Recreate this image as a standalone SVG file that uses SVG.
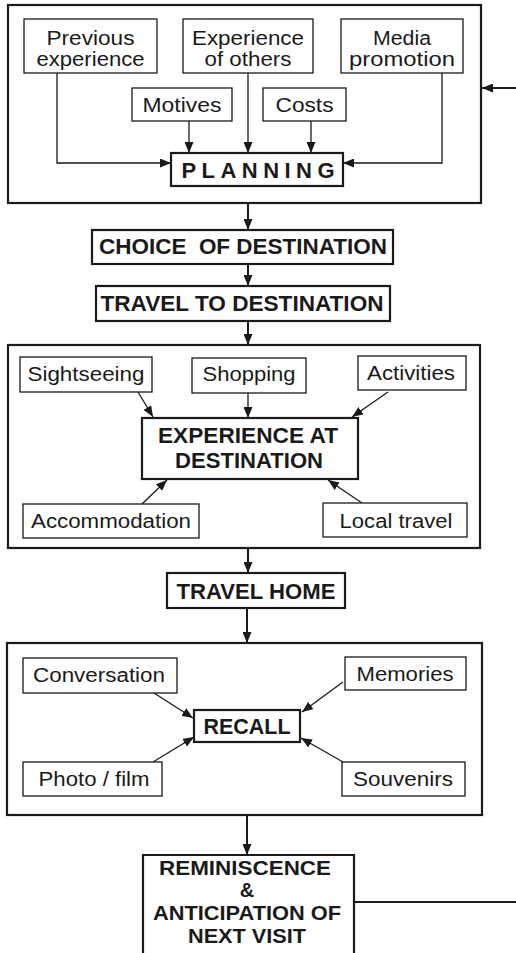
<svg xmlns="http://www.w3.org/2000/svg" width="516" height="953" viewBox="0 0 516 953">
  <defs>
    <marker id="arrow" markerUnits="userSpaceOnUse" markerWidth="12" markerHeight="9" refX="11" refY="4.5" orient="auto">
      <path d="M0,0 L11,4.5 L0,9 z" fill="#1a1a1a"/>
    </marker>
    <style>
      .frame { fill: none; stroke: #1a1a1a; stroke-width: 2.2; }
      .box { fill: #fff; stroke: #1a1a1a; stroke-width: 1.3; }
      .key { fill: #fff; stroke: #1a1a1a; stroke-width: 2.2; }
      .t { font-family: "Liberation Sans", Arial, sans-serif; font-size: 20px; fill: #1a1a1a; text-anchor: middle; }
      .b { font-family: "Liberation Sans", Arial, sans-serif; font-size: 22px; font-weight: bold; fill: #1a1a1a; text-anchor: middle; }
      .s { font-size: 20px; }
      .c { fill: none; stroke: #1a1a1a; stroke-width: 1.3; }
      .m { fill: none; stroke: #1a1a1a; stroke-width: 2; }
    </style>
  </defs>

  <rect x="0" y="0" width="516" height="953" fill="#fff"/>

  <!-- stage frames -->
  <g id="frames">
    <rect id="frame-planning" class="frame" x="8" y="5" width="473" height="198"/>
    <rect id="frame-destination" class="frame" x="8" y="345" width="472" height="203"/>
    <rect id="frame-recall" class="frame" x="7" y="643" width="475" height="172"/>
  </g>

  <!-- connectors -->
  <g id="connectors">
    <!-- planning inputs -->
    <path class="c" d="M57,73 V163 H171" marker-end="url(#arrow)"/>
    <path class="c" d="M442,73 V163 H343" marker-end="url(#arrow)"/>
    <path class="c" d="M189,121 V153" marker-end="url(#arrow)"/>
    <path class="c" d="M248,73 V153" marker-end="url(#arrow)"/>
    <path class="c" d="M311,121 V153" marker-end="url(#arrow)"/>
    <!-- main flow -->
    <path class="m" d="M248,203 V230" marker-end="url(#arrow)"/>
    <path class="m" d="M248,264 V286" marker-end="url(#arrow)"/>
    <path class="m" d="M248,321 V345" marker-end="url(#arrow)"/>
    <path class="m" d="M248,548 V573" marker-end="url(#arrow)"/>
    <path class="m" d="M247,608 V643" marker-end="url(#arrow)"/>
    <path class="m" d="M247,815 V855" marker-end="url(#arrow)"/>
    <!-- destination inputs -->
    <path class="c" d="M138,392 L153,417" marker-end="url(#arrow)"/>
    <path class="c" d="M248,393 V418" marker-end="url(#arrow)"/>
    <path class="c" d="M388,392 L352,417" marker-end="url(#arrow)"/>
    <path class="c" d="M142,504 L167,480" marker-end="url(#arrow)"/>
    <path class="c" d="M362,503 L328,480" marker-end="url(#arrow)"/>
    <!-- recall inputs -->
    <path class="c" d="M154,693 L193,718" marker-end="url(#arrow)"/>
    <path class="c" d="M343,682 L302,712" marker-end="url(#arrow)"/>
    <path class="c" d="M153,762 L194,737" marker-end="url(#arrow)"/>
    <path class="c" d="M343,762 L301,738" marker-end="url(#arrow)"/>
    <!-- loop back to planning -->
    <path class="m" d="M354,902 H516"/>
    <path class="m" d="M516,88 H482" marker-end="url(#arrow)"/>
  </g>

  <!-- planning stage -->
  <g id="previous-experience">
    <rect class="box" x="24" y="19" width="133" height="54"/>
    <text class="t" x="90.5" y="45" textLength="88" lengthAdjust="spacingAndGlyphs">Previous</text>
    <text class="t" x="90.5" y="66" textLength="108" lengthAdjust="spacingAndGlyphs">experience</text>
  </g>
  <g id="experience-of-others">
    <rect class="box" x="183" y="19" width="130" height="54"/>
    <text class="t" x="248" y="45" textLength="112" lengthAdjust="spacingAndGlyphs">Experience</text>
    <text class="t" x="248" y="66" textLength="87" lengthAdjust="spacingAndGlyphs">of others</text>
  </g>
  <g id="media-promotion">
    <rect class="box" x="341" y="19" width="122" height="54"/>
    <text class="t" x="402" y="45" textLength="58" lengthAdjust="spacingAndGlyphs">Media</text>
    <text class="t" x="402" y="66" textLength="106" lengthAdjust="spacingAndGlyphs">promotion</text>
  </g>
  <g id="motives">
    <rect class="box" x="132" y="88" width="100" height="33"/>
    <text class="t" x="182" y="112" textLength="79" lengthAdjust="spacingAndGlyphs">Motives</text>
  </g>
  <g id="costs">
    <rect class="box" x="263" y="88" width="83" height="33"/>
    <text class="t" x="304.5" y="112" textLength="58" lengthAdjust="spacingAndGlyphs">Costs</text>
  </g>
  <g id="planning">
    <rect class="key" x="171" y="153" width="172" height="33"/>
    <text class="b" x="258" y="178" font-size="21" textLength="153" lengthAdjust="spacing">PLANNING</text>
  </g>

  <g id="choice-of-destination">
    <rect class="key" x="92" y="230" width="301" height="34"/>
    <text class="b" x="243" y="254" textLength="288" lengthAdjust="spacingAndGlyphs" xml:space="preserve">CHOICE  OF DESTINATION</text>
  </g>
  <g id="travel-to-destination">
    <rect class="key" x="96" y="286" width="294" height="35"/>
    <text class="b" x="242" y="311" textLength="283" lengthAdjust="spacingAndGlyphs">TRAVEL TO DESTINATION</text>
  </g>

  <!-- destination stage -->
  <g id="sightseeing">
    <rect class="box" x="20" y="357" width="132" height="35"/>
    <text class="t" x="86" y="381" textLength="117" lengthAdjust="spacingAndGlyphs">Sightseeing</text>
  </g>
  <g id="shopping">
    <rect class="box" x="192" y="358" width="114" height="35"/>
    <text class="t" x="249" y="381" textLength="93" lengthAdjust="spacingAndGlyphs">Shopping</text>
  </g>
  <g id="activities">
    <rect class="box" x="358" y="356" width="108" height="34"/>
    <text class="t" x="411" y="380" textLength="88" lengthAdjust="spacingAndGlyphs">Activities</text>
  </g>
  <g id="experience-at-destination">
    <rect class="key" x="142" y="418" width="216" height="61"/>
    <text class="b" x="248" y="443" textLength="180" lengthAdjust="spacingAndGlyphs">EXPERIENCE AT</text>
    <text class="b" x="249" y="468" textLength="148" lengthAdjust="spacingAndGlyphs">DESTINATION</text>
  </g>
  <g id="accommodation">
    <rect class="box" x="23" y="504" width="176" height="34"/>
    <text class="t" x="111" y="528" textLength="160" lengthAdjust="spacingAndGlyphs">Accommodation</text>
  </g>
  <g id="local-travel">
    <rect class="box" x="323" y="503" width="144" height="34"/>
    <text class="t" x="396" y="528" textLength="113" lengthAdjust="spacingAndGlyphs">Local travel</text>
  </g>

  <g id="travel-home">
    <rect class="key" x="167" y="573" width="178" height="35"/>
    <text class="b" x="256" y="599" textLength="159" lengthAdjust="spacingAndGlyphs">TRAVEL HOME</text>
  </g>

  <!-- recall stage -->
  <g id="conversation">
    <rect class="box" x="23" y="658" width="154" height="35"/>
    <text class="t" x="99" y="682" textLength="132" lengthAdjust="spacingAndGlyphs">Conversation</text>
  </g>
  <g id="memories">
    <rect class="box" x="345" y="657" width="121" height="33"/>
    <text class="t" x="405" y="681" textLength="97" lengthAdjust="spacingAndGlyphs">Memories</text>
  </g>
  <g id="recall">
    <rect class="key" x="194" y="710" width="106" height="32"/>
    <text class="b" x="247" y="734" textLength="87" lengthAdjust="spacingAndGlyphs">RECALL</text>
  </g>
  <g id="photo-film">
    <rect class="box" x="23" y="762" width="139" height="34"/>
    <text class="t" x="94" y="786" textLength="111" lengthAdjust="spacingAndGlyphs">Photo / film</text>
  </g>
  <g id="souvenirs">
    <rect class="box" x="342" y="762" width="123" height="34"/>
    <text class="t" x="403" y="786" textLength="100" lengthAdjust="spacingAndGlyphs">Souvenirs</text>
  </g>

  <g id="reminiscence">
    <path class="key" d="M143,960 V855 H354 V960"/>
    <text class="b s" x="245" y="875" textLength="172" lengthAdjust="spacingAndGlyphs">REMINISCENCE</text>
    <text class="b s" x="247" y="897">&amp;</text>
    <text class="b s" x="247" y="920" textLength="188" lengthAdjust="spacingAndGlyphs">ANTICIPATION OF</text>
    <text class="b s" x="247" y="943" textLength="118" lengthAdjust="spacingAndGlyphs">NEXT VISIT</text>
  </g>
</svg>
